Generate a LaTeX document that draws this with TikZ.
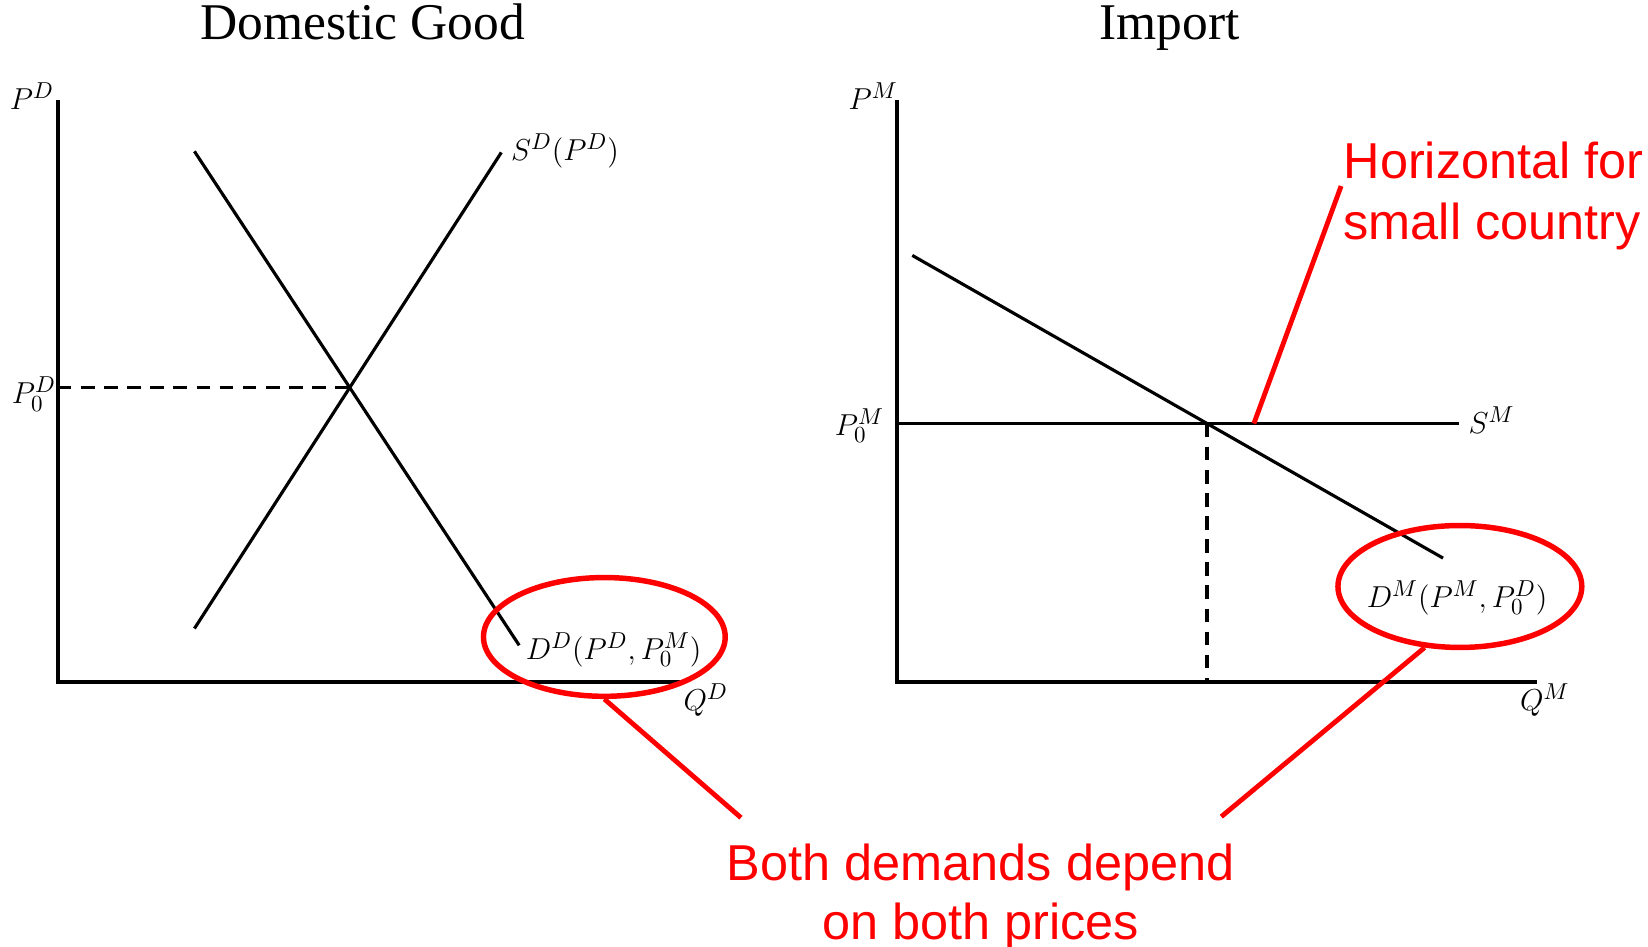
\documentclass[tikz,border=0pt]{standalone}
\usepackage{fontspec}
\setmainfont{Liberation Serif}
\newfontfamily\notefont{Liberation Sans}
\usetikzlibrary{shapes.geometric,calc}
\begin{document}
\begin{tikzpicture}[x=0.5pt,y=-0.5pt,
  axis/.style={line width=1.9pt},
  curve/.style={line width=1.5pt},
  guide/.style={line width=1.8pt, dash pattern=on 6.5pt off 4.5pt},
  callout/.style={draw=red, line width=2.3pt},
  ring/.style={ellipse, draw=red, line width=2.6pt, inner sep=0pt},
  lbl/.style={inner sep=0pt, font=\fontsize{15.5}{18}\selectfont},
  ttl/.style={inner sep=0pt, font=\fontsize{24.5}{29}\selectfont},
  note/.style={inner sep=0pt, text=red, font=\notefont\fontsize{24}{29}\selectfont}]
\useasboundingbox (0,0) rectangle (1568,901);

% titles
\node[ttl, anchor=base] (t1) at (345,38) {Domestic Good};
\node[ttl, anchor=base] (t2) at (1113,38) {Import};

% ---------- left panel ----------
\coordinate (O1) at (55,649);
\coordinate (Y1) at (55,95);
\coordinate (X1) at (650,649);
\coordinate (S1a) at (185,598);
\coordinate (S1b) at (477,145);
\coordinate (D1a) at (185,144);
\coordinate (D1b) at (494,614);
\coordinate (E1) at (intersection of S1a--S1b and D1a--D1b);
\coordinate (E1y) at (O1 |- E1);

\draw[axis] (Y1) -- (O1) -- (X1);
\draw[curve] (S1a) -- (S1b);
\draw[curve] (D1a) -- (D1b);
\draw[guide] (E1y) -- (E1);

\node[lbl, anchor=base west] (pD) at (9,104) {$P^D$};
\node[lbl, anchor=base west] (p0D) at (11,384) {$P_0^D$};
\node[lbl, anchor=base west] (sD) at (486,153) {$S^D(P^D)$};
\node[lbl, anchor=base west] (dD) at (500,627) {$D^D(P^D,P_0^M)$};
\node[lbl, anchor=base west] (qD) at (650,676) {$Q^D$};

% ---------- right panel ----------
\coordinate (O2) at (853,649);
\coordinate (Y2) at (853,95);
\coordinate (X2) at (1462,649);
\coordinate (SMa) at (853,403);
\coordinate (SMb) at (1388,403);
\coordinate (DMa) at (868,243);
\coordinate (DMb) at (1373,531);
\coordinate (E2) at (intersection of SMa--SMb and DMa--DMb);
\coordinate (E2x) at (E2 |- O2);

\draw[axis] (Y2) -- (O2) -- (X2);
\draw[curve] (SMa) -- (SMb);
\draw[curve] (DMa) -- (DMb);
\draw[guide] (E2) -- (E2x);

\node[lbl, anchor=base west] (pM) at (807,104) {$P^M$};
\node[lbl, anchor=base west] (p0M) at (794,414) {$P_0^M$};
\node[lbl, anchor=base west] (sM) at (1397,412) {$S^M$};
\node[lbl, anchor=base west] (dM) at (1300,578) {$D^M(P^M,P_0^D)$};
\node[lbl, anchor=base west] (qM) at (1446,676) {$Q^M$};

% ---------- red annotations ----------
\node[ring, minimum width=115pt, minimum height=56.5pt] (ringD) at (575,606) {};
\node[ring, minimum width=116pt, minimum height=58pt] (ringM) at (1389,558) {};

\coordinate (hzA) at (1193,403);
\coordinate (hzB) at (1276,177);
\draw[callout] (hzA) -- (hzB);
\node[note, anchor=base west] (h1) at (1278,170) {Horizontal for};
\node[note, anchor=base west] (h2) at (1278,228) {small country};

\coordinate (bA) at (705,778);
\coordinate (bB) at (1162,777);
\draw[callout] (ringD.south) -- (bA);
\draw[callout] (ringM.240) -- (bB);
\node[note, anchor=base] (b1) at (933,838) {Both demands depend};
\node[note, anchor=base] (b2) at (933,894) {on both prices};
\end{tikzpicture}
\end{document}
